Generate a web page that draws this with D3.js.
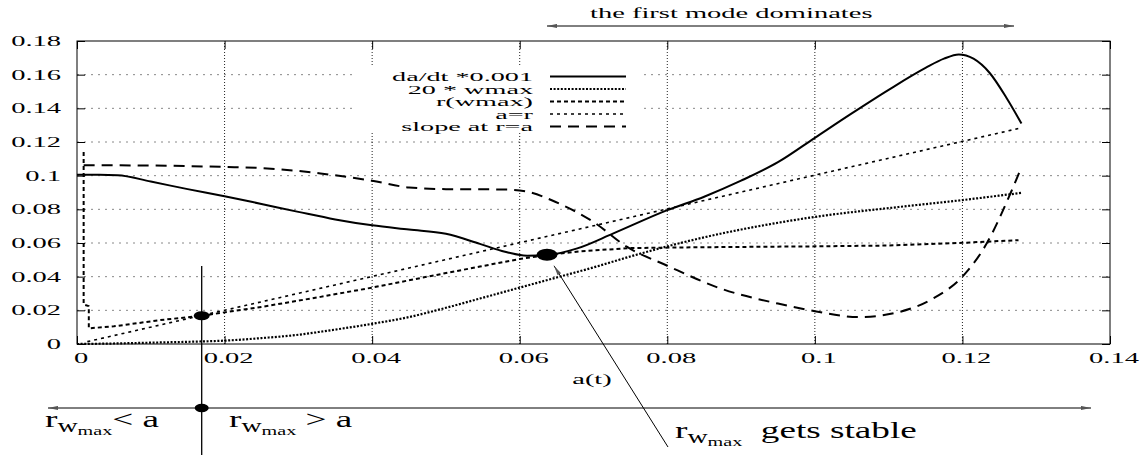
<!DOCTYPE html>
<html>
<head>
<meta charset="utf-8">
<script src="https://cdn.jsdelivr.net/npm/d3@7"></script>
<style>
  body { margin: 0; background: #fff; }
  svg { display: block; }
  text { font-family: 'Liberation Serif', 'DejaVu Serif', serif; }
</style>
</head>
<body>
<div id="chart"></div>
<script>
// tick values
const xTicks = [0, 0.02, 0.04, 0.06, 0.08, 0.1, 0.12, 0.14];
const yTicks = [0, 0.02, 0.04, 0.06, 0.08, 0.1, 0.12, 0.14, 0.16, 0.18];

// series, [a(t), value]
const daDt = [[0, 0.1005], [0.003, 0.1005], [0.0055, 0.1003], [0.01, 0.0965], [0.015, 0.092],
  [0.02, 0.0878], [0.025, 0.0832], [0.03, 0.0785], [0.035, 0.074], [0.04, 0.0705], [0.045, 0.068],
  [0.05, 0.0655], [0.0546, 0.0595], [0.058, 0.0548], [0.061, 0.0525], [0.0637, 0.0528],
  [0.0678, 0.0568], [0.0727, 0.0657], [0.08, 0.0795], [0.085, 0.0875], [0.09, 0.097],
  [0.095, 0.108], [0.1, 0.1225], [0.105, 0.137], [0.11, 0.151], [0.115, 0.164], [0.1175, 0.1695],
  [0.1195, 0.172], [0.1215, 0.1695], [0.1237, 0.161], [0.126, 0.146], [0.128, 0.131]];

const wmax20 = [[0, 0], [0.005, 0.0003], [0.01, 0.0008], [0.015, 0.0013], [0.02, 0.002],
  [0.025, 0.0035], [0.03, 0.0055], [0.033, 0.0073], [0.04, 0.012], [0.045, 0.016], [0.05, 0.0215],
  [0.0546, 0.027], [0.06, 0.0335], [0.065, 0.0395], [0.07, 0.0455], [0.075, 0.052], [0.08, 0.058],
  [0.0872, 0.0655], [0.09, 0.068], [0.1, 0.0755], [0.1116, 0.0815], [0.12, 0.0855], [0.128, 0.0898]];

const rWmax = [[0.0009, 0.114], [0.0009, 0.0235], [0.0016, 0.0225], [0.0016, 0.0093],
  [0.005, 0.0105], [0.0113, 0.0142], [0.0169, 0.0168], [0.025, 0.022], [0.033, 0.028],
  [0.04, 0.0335], [0.0475, 0.04], [0.0546, 0.046], [0.06, 0.0505], [0.0637, 0.0528],
  [0.068, 0.055], [0.075, 0.057], [0.085, 0.0575], [0.1, 0.058], [0.11, 0.0585],
  [0.12, 0.0601], [0.1276, 0.0617]];

const aEqR = [[0.0014, 0.0014], [0.1276, 0.128]];

const slopeAtR = [[0.0009, 0.1062], [0.01, 0.106], [0.02, 0.1052], [0.025, 0.1045], [0.03, 0.1028],
  [0.033, 0.1013], [0.04, 0.097], [0.045, 0.093], [0.05, 0.092], [0.058, 0.0918], [0.061, 0.0905],
  [0.0648, 0.0845], [0.07, 0.0725], [0.0745, 0.0578], [0.08, 0.0465], [0.0872, 0.033],
  [0.095, 0.024], [0.1, 0.0195], [0.106, 0.016], [0.1116, 0.0192], [0.116, 0.027], [0.12, 0.04],
  [0.1233, 0.0598], [0.1265, 0.0894], [0.128, 0.105]];

const seriesNames = ['da/dt *0.001', '20 * wmax', 'r(wmax)', 'a=r', 'slope at r=a'];

// marked points: crossing r(wmax)=a, and where r(wmax) gets stable
const crossA = 0.0169, crossV = 0.0168;
const stableA = 0.0637, stableV = 0.053;

const W = 1142, H = 460;
const sx = 1.9;

const svg = d3.select('#chart').append('svg')
  .attr('width', W)
  .attr('height', H);

const x = d3.scaleLinear().domain([0, 0.14]).range([77, 1110]);
const y = d3.scaleLinear().domain([0, 0.18]).range([344, 41]);

function label(parent, px, py, str, anchor, size, stretch) {
  return parent.append('g')
    .attr('transform', 'translate(' + px + ',' + py + ') scale(' + (stretch || sx) + ',1)')
    .append('text')
    .attr('font-size', size || 15)
    .attr('text-anchor', anchor || 'start')
    .text(str);
}

// arrow heads
const defs = svg.append('defs');
defs.append('marker')
  .attr('id', 'head')
  .attr('viewBox', '0 0 12 6')
  .attr('refX', 12).attr('refY', 3)
  .attr('markerWidth', 12).attr('markerHeight', 5)
  .attr('markerUnits', 'userSpaceOnUse')
  .attr('orient', 'auto-start-reverse')
  .append('path')
  .attr('d', 'M0,0.5 L12,3 L0,5.5 Z')
  .attr('fill', '#555');

// grid
svg.append('g').selectAll('line')
  .data(yTicks.slice(1, -1))
  .enter().append('line')
  .attr('x1', x(0)).attr('x2', x(0.14))
  .attr('y1', d => y(d)).attr('y2', d => y(d))
  .attr('stroke', '#888').attr('stroke-width', 1)
  .attr('stroke-dasharray', '2,5');

svg.append('g').selectAll('line')
  .data(xTicks.slice(1, -1))
  .enter().append('line')
  .attr('x1', d => x(d)).attr('x2', d => x(d))
  .attr('y1', y(0)).attr('y2', y(0.18))
  .attr('stroke', '#222').attr('stroke-width', 1)
  .attr('stroke-dasharray', '1,2');

// inner ticks on all four sides
const tickAxes = [
  [d3.axisLeft(y).tickValues(yTicks), 'translate(' + x(0) + ',0)'],
  [d3.axisRight(y).tickValues(yTicks), 'translate(' + x(0.14) + ',0)'],
  [d3.axisBottom(x).tickValues(xTicks), 'translate(0,' + y(0) + ')'],
  [d3.axisTop(x).tickValues(xTicks), 'translate(0,' + y(0.18) + ')']
];
tickAxes.forEach(function (t) {
  let ax = svg.append('g')
    .attr('transform', t[1])
    .call(t[0].tickSize(-8).tickFormat(''));
  ax.select('.domain').remove();
  ax.selectAll('line').attr('stroke', '#000');
});

// frame
svg.append('rect')
  .attr('x', x(0)).attr('y', y(0.18))
  .attr('width', x(0.14) - x(0)).attr('height', y(0) - y(0.18))
  .attr('fill', 'none').attr('stroke', '#000').attr('stroke-width', 1);

// tick labels
yTicks.forEach(d => label(svg, 61, y(d) + 5, String(d), 'end'));
xTicks.forEach(d => label(svg, x(d) + 4, 363, String(d), 'middle'));
label(svg, 592, 384, 'a(t)', 'middle');

// key (blanks the grid behind it)
svg.append('rect')
  .attr('x', 352).attr('y', 66).attr('width', 292).attr('height', 66)
  .attr('fill', '#fff');

const styles = [
  { data: daDt, width: 2, dash: null, curve: d3.curveMonotoneX },
  { data: wmax20, width: 2.2, dash: '2,1.6', curve: d3.curveMonotoneX },
  { data: rWmax, width: 2, dash: '4,3', curve: d3.curveLinear },
  { data: aEqR, width: 1.6, dash: '3,4', curve: d3.curveLinear },
  { data: slopeAtR, width: 2, dash: '11,7', curve: d3.curveMonotoneX }
];

styles.forEach(function (s, i) {
  let line = d3.line()
    .x(d => x(d[0]))
    .y(d => y(d[1]))
    .curve(s.curve);

  svg.append('path')
    .datum(s.data)
    .attr('fill', 'none')
    .attr('stroke', '#000')
    .attr('stroke-width', s.width)
    .attr('stroke-dasharray', s.dash)
    .attr('stroke-linejoin', 'round')
    .attr('d', line);

  // key row
  let ky = 76.5 + i * 12.5;
  svg.append('line')
    .attr('x1', 550).attr('x2', 626)
    .attr('y1', ky).attr('y2', ky)
    .attr('stroke', '#000')
    .attr('stroke-width', s.width)
    .attr('stroke-dasharray', s.dash);
  label(svg, 533, ky + 4.5, seriesNames[i], 'end', 12, 2.35);
});

// marked points
svg.append('ellipse')
  .attr('cx', x(crossA)).attr('cy', y(crossV))
  .attr('rx', 8).attr('ry', 4.5).attr('fill', '#000');
svg.append('ellipse')
  .attr('cx', x(stableA)).attr('cy', y(stableV))
  .attr('rx', 10.5).attr('ry', 6).attr('fill', '#000');

// annotations
svg.append('line')
  .attr('x1', x(crossA)).attr('x2', x(crossA))
  .attr('y1', 266).attr('y2', 455)
  .attr('stroke', '#000').attr('stroke-width', 1.3);
svg.append('ellipse')
  .attr('cx', x(crossA)).attr('cy', 408)
  .attr('rx', 7).attr('ry', 4.2).attr('fill', '#000');

svg.append('line')
  .attr('x1', 48).attr('x2', 1091)
  .attr('y1', 408).attr('y2', 408)
  .attr('stroke', '#000').attr('stroke-width', 1)
  .attr('marker-start', 'url(#head)')
  .attr('marker-end', 'url(#head)');

svg.append('line')
  .attr('x1', x(stableA)).attr('x2', 1014)
  .attr('y1', 26).attr('y2', 26)
  .attr('stroke', '#000').attr('stroke-width', 1)
  .attr('marker-start', 'url(#head)')
  .attr('marker-end', 'url(#head)');
label(svg, 590, 18, 'the first mode dominates', 'start');

svg.append('line')
  .attr('x1', 668).attr('y1', 447)
  .attr('x2', x(stableA) + 7).attr('y2', y(stableV) + 11)
  .attr('stroke', '#000').attr('stroke-width', 1)
  .attr('marker-end', 'url(#head)');

function rLabel(px, py, tail) {
  let t = svg.append('g')
    .attr('transform', 'translate(' + px + ',' + py + ') scale(1.55,1)')
    .append('text')
    .attr('font-size', 24);
  t.append('tspan').text('r');
  t.append('tspan').attr('font-size', 18).attr('dy', 5).text('w');
  t.append('tspan').attr('font-size', 13).attr('dy', 3).text('max');
  t.append('tspan').attr('dy', -8).text(tail);
}
rLabel(45, 427, '<\u00a0a');
rLabel(229, 427, '\u00a0>\u00a0a');
rLabel(675, 438, '\u00a0\u00a0gets stable');
</script>
</body>
</html>
